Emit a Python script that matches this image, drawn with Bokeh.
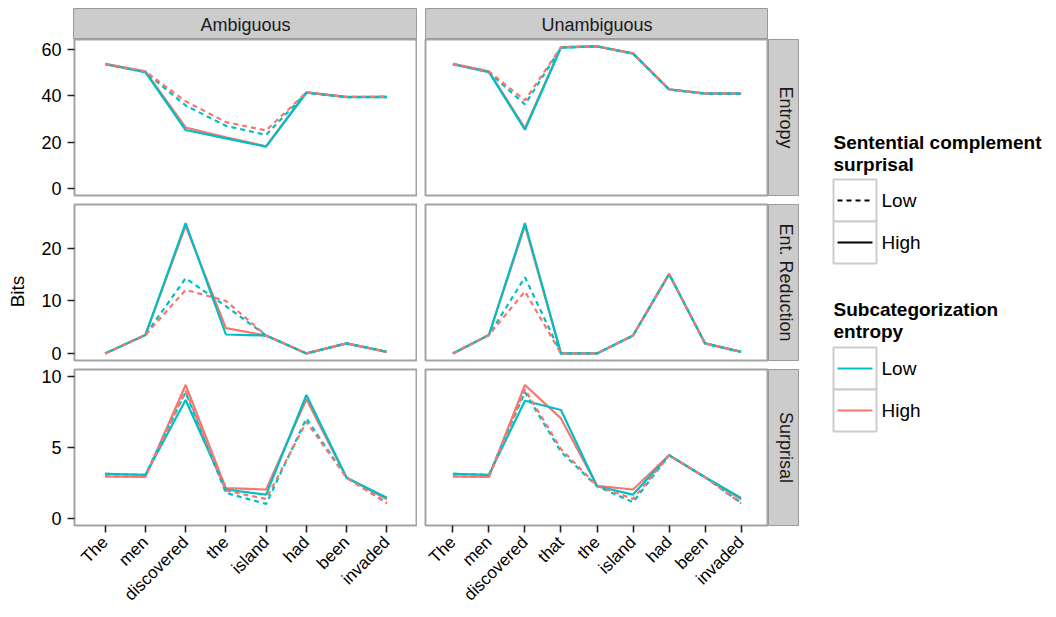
import math
from bokeh.plotting import figure
from bokeh.models import Range1d, FactorRange, FixedTicker, ColumnDataSource, Spacer
from bokeh.layouts import row, column
from bokeh.embed import file_html
from bokeh.resources import INLINE
from bokeh.core.properties import value

# ---------------- data ----------------
conditions = ["Ambiguous", "Unambiguous"]
measures = ["Entropy", "Ent. Reduction", "Surprisal"]
words_amb = ["The", "men", "discovered", "the", "island", "had", "been", "invaded"]
words_unamb = ["The", "men", "discovered", "that", "the", "island", "had", "been", "invaded"]
sc_levels = ["Low", "High"]   # sentential complement surprisal -> linetype
se_levels = ["Low", "High"]   # subcategorization entropy -> colour

# naming: <measure>_<condition>_sc<Low/High>_se<Low/High>
entropy_amb_scLow_seLow = [53.6, 50.2, 35.8, 27.0, 23.1, 41.3, 39.4, 39.4]
entropy_amb_scLow_seHigh = [53.8, 50.5, 37.6, 28.6, 25.0, 41.5, 39.5, 39.6]
entropy_amb_scHigh_seLow = [53.6, 50.2, 25.2, 21.6, 18.0, 41.3, 39.4, 39.4]
entropy_amb_scHigh_seHigh = [53.8, 50.5, 26.3, 22.0, 18.2, 41.5, 39.5, 39.6]

entropy_unamb_scLow_seLow = [53.6, 50.2, 36.2, 60.8, 61.3, 58.2, 42.7, 40.9, 40.9]
entropy_unamb_scLow_seHigh = [53.8, 50.5, 38.0, 61.0, 61.4, 58.3, 42.8, 41.0, 41.0]
entropy_unamb_scHigh_seLow = [53.6, 50.2, 25.3, 60.8, 61.3, 58.2, 42.7, 40.9, 40.9]
entropy_unamb_scHigh_seHigh = [53.8, 50.5, 26.0, 61.0, 61.4, 58.3, 42.8, 41.0, 41.0]

entred_amb_scLow_seLow = [0.0, 3.5, 14.3, 9.0, 3.4, 0.0, 1.9, 0.3]
entred_amb_scLow_seHigh = [0.0, 3.5, 12.1, 10.0, 3.4, 0.0, 1.9, 0.3]
entred_amb_scHigh_seLow = [0.0, 3.5, 24.8, 3.6, 3.4, 0.0, 1.9, 0.3]
entred_amb_scHigh_seHigh = [0.0, 3.5, 24.3, 4.8, 3.4, 0.0, 1.9, 0.3]

entred_unamb_scLow_seLow = [0.0, 3.5, 14.5, 0.0, 0.0, 3.4, 15.1, 1.9, 0.3]
entred_unamb_scLow_seHigh = [0.0, 3.5, 11.8, 0.0, 0.0, 3.4, 15.1, 1.9, 0.3]
entred_unamb_scHigh_seLow = [0.0, 3.5, 24.8, 0.0, 0.0, 3.4, 15.1, 1.9, 0.3]
entred_unamb_scHigh_seHigh = [0.0, 3.5, 24.3, 0.0, 0.0, 3.4, 15.1, 1.9, 0.3]

surp_amb_scLow_seLow = [3.15, 3.07, 8.9, 1.8, 1.02, 7.05, 2.87, 1.1]
surp_amb_scLow_seHigh = [2.96, 2.93, 9.0, 1.95, 1.37, 6.8, 2.87, 1.06]
surp_amb_scHigh_seLow = [3.15, 3.07, 8.35, 2.04, 1.68, 8.7, 2.87, 1.45]
surp_amb_scHigh_seHigh = [2.96, 2.93, 9.41, 2.13, 2.04, 8.4, 2.87, 1.35]

surp_unamb_scLow_seLow = [3.15, 3.07, 8.9, 4.7, 2.27, 1.14, 4.45, 2.9, 1.1]
surp_unamb_scLow_seHigh = [2.96, 2.93, 9.1, 4.9, 2.3, 1.37, 4.45, 2.9, 1.06]
surp_unamb_scHigh_seLow = [3.15, 3.07, 8.3, 7.64, 2.27, 1.68, 4.45, 2.9, 1.45]
surp_unamb_scHigh_seHigh = [2.96, 2.93, 9.41, 7.05, 2.3, 2.04, 4.45, 2.9, 1.35]

y_limits = [(-3.1, 64.3), (-1.35, 28.35), (-0.5, 10.5)]
y_ticks = [[0, 20, 40, 60], [0, 10, 20], [0, 5, 10]]

data = {
    (0, 0): {("Low", "Low"): entropy_amb_scLow_seLow, ("Low", "High"): entropy_amb_scLow_seHigh,
             ("High", "Low"): entropy_amb_scHigh_seLow, ("High", "High"): entropy_amb_scHigh_seHigh},
    (0, 1): {("Low", "Low"): entropy_unamb_scLow_seLow, ("Low", "High"): entropy_unamb_scLow_seHigh,
             ("High", "Low"): entropy_unamb_scHigh_seLow, ("High", "High"): entropy_unamb_scHigh_seHigh},
    (1, 0): {("Low", "Low"): entred_amb_scLow_seLow, ("Low", "High"): entred_amb_scLow_seHigh,
             ("High", "Low"): entred_amb_scHigh_seLow, ("High", "High"): entred_amb_scHigh_seHigh},
    (1, 1): {("Low", "Low"): entred_unamb_scLow_seLow, ("Low", "High"): entred_unamb_scLow_seHigh,
             ("High", "Low"): entred_unamb_scHigh_seLow, ("High", "High"): entred_unamb_scHigh_seHigh},
    (2, 0): {("Low", "Low"): surp_amb_scLow_seLow, ("Low", "High"): surp_amb_scLow_seHigh,
             ("High", "Low"): surp_amb_scHigh_seLow, ("High", "High"): surp_amb_scHigh_seHigh},
    (2, 1): {("Low", "Low"): surp_unamb_scLow_seLow, ("Low", "High"): surp_unamb_scLow_seHigh,
             ("High", "Low"): surp_unamb_scHigh_seLow, ("High", "High"): surp_unamb_scHigh_seHigh},
}

# ---------------- style ----------------
FONT = "Liberation Sans"
TEAL = "#00BFC4"
SALMON = "#F8766D"
COLORS = {"Low": TEAL, "High": SALMON}
DASHES = {"Low": "5 4", "High": "solid"}
STRIP_FILL = "#cccccc"
STRIP_LINE = "#9a9a9a"
PANEL_LINE = "#a3a3a3"
YTICK_FS = "18px"
XTICK_FS = "17px"

PAGE_M = 8
BITS_W = 30
LEFT_AX = 35
COL_GAP = 8
FW_L = 344
FW_R = 343
RSTRIP_W = 31
STRIP_H = 31
FRAME_H = 156
GAP_TOP = 4
GAP_BOT = 5
XAX = 90
LEG_W = 248
ROW_BORDERS = [(0, GAP_BOT), (GAP_TOP, GAP_BOT), (GAP_TOP, XAX)]
TOTAL_H = STRIP_H + sum(t + FRAME_H + b for t, b in ROW_BORDERS)

draw_order = [("High", "High"), ("High", "Low"), ("Low", "Low"), ("Low", "High")]


def base_fig(w, h, xr, yr, xloc=None, yloc=None, **borders):
    p = figure(width=w, height=h, x_range=xr, y_range=yr,
               output_backend="svg", toolbar_location=None,
               x_axis_location=xloc, y_axis_location=yloc,
               min_border=0, **borders)
    p.xgrid.visible = False
    p.ygrid.visible = False
    p.border_fill_color = "white"
    p.background_fill_color = "white"
    p.outline_line_color = None
    return p


def panel(ri, ci):
    words = words_amb if ci == 0 else words_unamb
    left = ci == 0
    bottom = ri == 2
    top_b, bot_b = ROW_BORDERS[ri]
    left_b = LEFT_AX if left else COL_GAP
    w = left_b + (FW_L if left else FW_R)
    h = top_b + FRAME_H + bot_b
    xr = FactorRange(factors=words, range_padding=0.26, range_padding_units="absolute")
    yr = Range1d(*y_limits[ri])
    p = base_fig(w, h, xr, yr, "below" if bottom else None, "left" if left else None,
                 min_border_left=left_b, min_border_right=0,
                 min_border_top=top_b, min_border_bottom=bot_b)
    p.outline_line_color = PANEL_LINE
    p.outline_line_width = 2
    for sc, se in draw_order:
        src = ColumnDataSource(dict(word=words, bits=data[(ri, ci)][(sc, se)]))
        p.line("word", "bits", source=src, line_color=COLORS[se],
               line_dash=DASHES[sc], line_width=2.2)
    for ax in p.axis:
        ax.axis_line_color = None
        ax.major_tick_line_color = "#222222"
        ax.major_tick_line_width = 1.6
        ax.major_tick_out = 7
        ax.major_tick_in = 0
        ax.minor_tick_line_color = None
        ax.major_label_text_font = FONT
        ax.major_label_text_color = "black"
    if left:
        p.yaxis.ticker = FixedTicker(ticks=y_ticks[ri])
        p.yaxis.major_label_standoff = 6
        p.yaxis.major_label_text_font_size = YTICK_FS
    if bottom:
        p.xaxis.major_label_orientation = math.pi / 4
        p.xaxis.major_label_standoff = 7
        p.xaxis.major_label_text_font_size = XTICK_FS
    return p


def top_strip(ci):
    left = ci == 0
    left_b = LEFT_AX if left else COL_GAP
    w = left_b + (FW_L if left else FW_R)
    p = base_fig(w, STRIP_H, Range1d(0, 1), Range1d(0, 1),
                 min_border_left=left_b, min_border_right=0, min_border_top=0, min_border_bottom=0)
    p.background_fill_color = STRIP_FILL
    p.outline_line_color = STRIP_LINE
    p.outline_line_width = 1
    p.text(x=[0.5], y=[0.47], text=[conditions[ci]], text_align="center",
           text_baseline="middle", text_font=value(FONT), text_font_size="18px",
           text_color="#1a1a1a")
    return p


def right_strip(ri):
    top_b, bot_b = ROW_BORDERS[ri]
    p = base_fig(RSTRIP_W, top_b + FRAME_H + bot_b, Range1d(0, 1), Range1d(0, 1),
                 min_border_left=0, min_border_right=0, min_border_top=top_b, min_border_bottom=bot_b)
    p.background_fill_color = STRIP_FILL
    p.outline_line_color = STRIP_LINE
    p.outline_line_width = 1
    p.text(x=[0.55], y=[0.5], text=[measures[ri]], text_align="center",
           text_baseline="middle", angle=-math.pi / 2, text_font=value(FONT),
           text_font_size="18px", text_color="#1a1a1a")
    return p


# "Bits" axis title column
bits = base_fig(BITS_W, TOTAL_H, Range1d(0, BITS_W), Range1d(TOTAL_H, 0),
                min_border_left=0, min_border_right=0, min_border_top=0, min_border_bottom=0)
bits.text(x=[9], y=[283], text=["Bits"], angle=math.pi / 2, text_align="center",
          text_baseline="middle", text_font=value(FONT), text_font_size="19px",
          text_color="black")

# legend column (drawn in pixel-like coordinates)
leg = base_fig(LEG_W, TOTAL_H, Range1d(0, LEG_W), Range1d(TOTAL_H, 0),
               min_border_left=0, min_border_right=0, min_border_top=0, min_border_bottom=0)
legend_titles = [["Sentential complement", "surprisal"], ["Subcategorization", "entropy"]]
legend_title_y = [[134, 156], [301, 323]]
legend_key_top = [171, 339]
KEY_X0, KEY_W, KEY_H = 34, 43, 42
for gi in range(2):
    for li, t in enumerate(legend_titles[gi]):
        leg.text(x=[KEY_X0], y=[legend_title_y[gi][li]], text=[t], text_align="left",
                 text_baseline="middle", text_font=value(FONT), text_font_size="19px",
                 text_font_style="bold", text_color="black")
    for k, lvl in enumerate(["Low", "High"]):
        y0 = legend_key_top[gi] + k * KEY_H
        leg.quad(left=[KEY_X0], right=[KEY_X0 + KEY_W], top=[y0], bottom=[y0 + KEY_H],
                 fill_color="white", line_color="#cccccc", line_width=2)
        ym = y0 + KEY_H / 2
        if gi == 0:
            lc, ld = "black", DASHES[lvl]
        else:
            lc, ld = COLORS[lvl], "solid"
        leg.line(x=[KEY_X0 + 4, KEY_X0 + KEY_W - 4], y=[ym, ym], line_color=lc,
                 line_dash=ld, line_width=1.8)
        leg.text(x=[KEY_X0 + KEY_W + 5], y=[ym], text=[lvl], text_align="left",
                 text_baseline="middle", text_font=value(FONT), text_font_size="19px",
                 text_color="black")

rows = [row(top_strip(0), top_strip(1), Spacer(width=RSTRIP_W, height=STRIP_H))]
for ri in range(3):
    rows.append(row(panel(ri, 0), panel(ri, 1), right_strip(ri)))
grid = column(*rows)
main = column(Spacer(width=10, height=PAGE_M),
              row(Spacer(width=PAGE_M, height=10), bits, grid, leg))

open("out.html", "w").write(file_html(main, INLINE))
